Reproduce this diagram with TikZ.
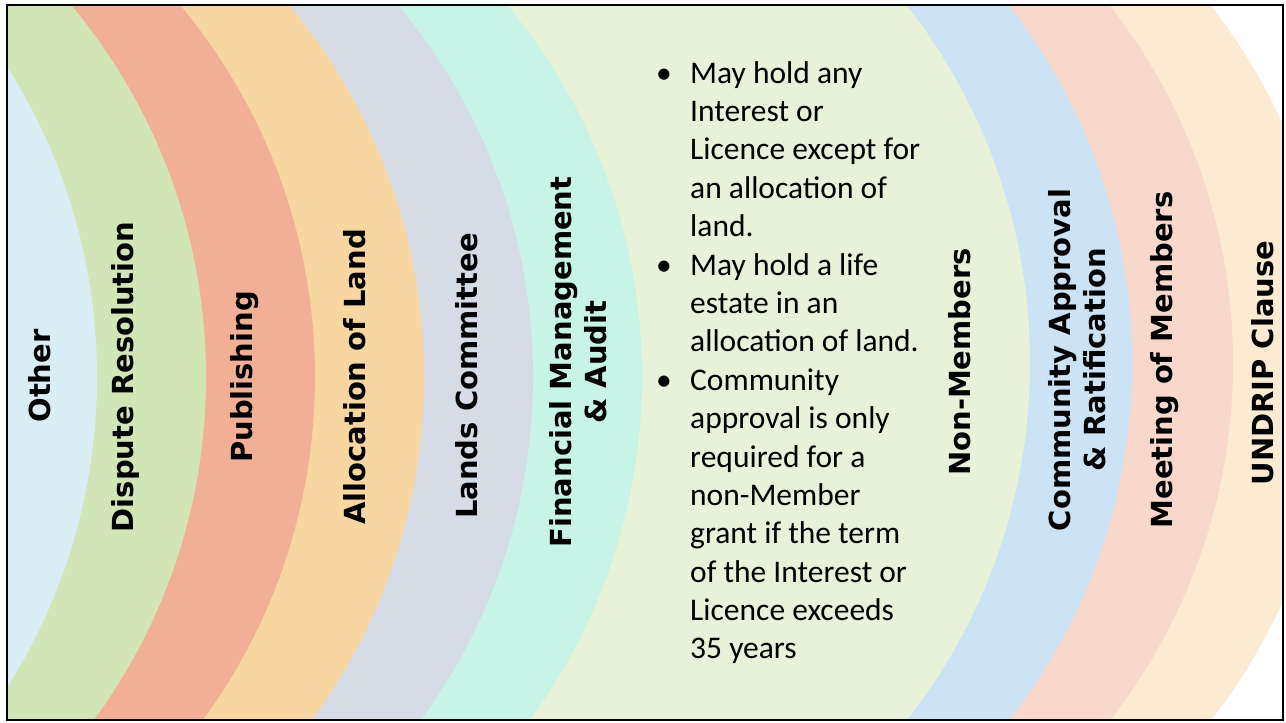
\documentclass[tikz,border=0pt]{standalone}
\usepackage{fontspec}
\setmainfont{Carlito}
\newfontfamily\labelfont{DejaVu Sans}
\definecolor{cOther}{HTML}{D9EEF4}
\definecolor{cDispute}{HTML}{D2E5B6}
\definecolor{cPublish}{HTML}{F1B096}
\definecolor{cAlloc}{HTML}{F8D6A1}
\definecolor{cLands}{HTML}{D5DCE6}
\definecolor{cFinance}{HTML}{C7F4E6}
\definecolor{cNonMem}{HTML}{E8F2D9}
\definecolor{cCommunity}{HTML}{CBE3F4}
\definecolor{cMeeting}{HTML}{F8D8CB}
\definecolor{cUndrip}{HTML}{FCEBD2}
\begin{document}
\begin{tikzpicture}[x=1pt,y=-1pt,
  band/.style={fill=#1,draw=none},
  lab/.style={rotate=90,font=\labelfont\bfseries\fontsize{29}{35}\selectfont,
    align=center,inner sep=0pt,text=black},
  body/.style={font=\fontsize{31.5}{38.4}\selectfont,inner sep=0pt,text=black}]
\useasboundingbox (0,0) rectangle (1286,723);
\fill[white] (0,0) rectangle (1286,723);
\begin{scope}
  \clip (7,5) rectangle (1283,720);
  \fill[band=cUndrip]    (754,363) circle[radius=580pt];
  \fill[band=cMeeting]   (653,363) circle[radius=580pt];
  \fill[band=cCommunity] (552,363) circle[radius=580pt];
  \fill[band=cNonMem]    (450,363) circle[radius=580pt];
  \fill[band=cFinance]   (62,377)  circle[radius=580pt];
  \fill[band=cLands]     (-47,377) circle[radius=580pt];
  \fill[band=cAlloc]     (-156,377) circle[radius=580pt];
  \fill[band=cPublish]   (-265,377) circle[radius=580pt];
  \fill[band=cDispute]   (-374,377) circle[radius=580pt];
  \fill[band=cOther]     (-483,377) circle[radius=580pt];
\end{scope}
\draw[line width=2.8pt] (7,5) rectangle (1283,720);

\node[lab] (other)   at (40,376)  {Other};
\node[lab] (dispute) at (125,377) {Dispute Resolution};
\node[lab] (publish) at (245,377) {Publishing};
\node[lab] (alloc)   at (355,377) {Allocation of Land};
\node[lab] (lands)   at (467,376) {Lands Committee};
\node[lab] (finance) at (578,362) {Financial Management\\\& Audit};
\node[lab] (nonmem)  at (960,362) {Non-Members};
\node[lab] (commun)  at (1077,360) {Community Approval\\\& Ratification};
\node[lab] (meeting) at (1165,360) {Meeting of Members};
\node[lab] (undrip)  at (1263,363) {UNDRIP Clause};

\node[body,anchor=base west] (bullets) at (656,83) {%
\begin{tabular}[t]{@{}p{34pt}@{}l@{}}
\textbullet & May hold any\\
 & Interest or\\
 & Licence except for\\
 & an allocation of\\
 & land.\\
\textbullet & May hold a life\\
 & estate in an\\
 & allocation of land.\\
\textbullet & Community\\
 & approval is only\\
 & required for a\\
 & non-Member\\
 & grant if the term\\
 & of the Interest or\\
 & Licence exceeds\\
 & 35 years
\end{tabular}};
\end{tikzpicture}
\end{document}
